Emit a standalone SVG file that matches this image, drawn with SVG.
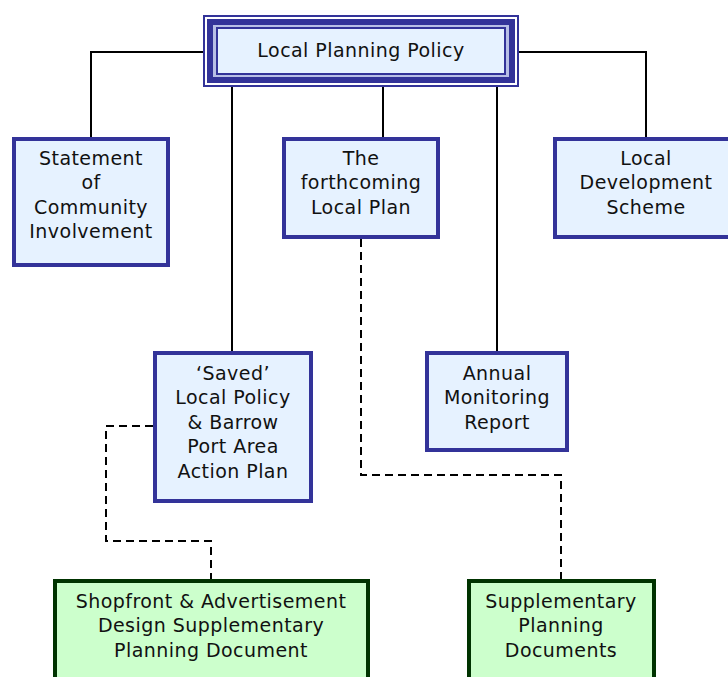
<svg xmlns="http://www.w3.org/2000/svg" width="728" height="677" viewBox="0 0 728 677">
  <style>
    .box { fill: #e6f2ff; stroke: #333399; stroke-width: 4; }
    .doc { fill: #ccffcc; stroke: #003300; stroke-width: 4; }
    .lbl { font-family: "DejaVu Sans", Verdana, sans-serif; font-size: 19px; letter-spacing: 0.45px; fill: #111; text-anchor: middle; }
    .solid { fill: none; stroke: #000; stroke-width: 2; }
    .dash { fill: none; stroke: #000; stroke-width: 2; stroke-dasharray: 8 5; }
  </style>
  <rect width="728" height="677" fill="#fff"/>

  <!-- connectors -->
  <g id="connectors">
    <polyline class="solid" points="211,52 91,52 91,137"/>
    <polyline class="solid" points="511,52 646,52 646,137"/>
    <line class="solid" x1="383" y1="87" x2="383" y2="137"/>
    <line class="solid" x1="232" y1="87" x2="232" y2="351"/>
    <line class="solid" x1="497" y1="87" x2="497" y2="351"/>
    <polyline class="dash" points="361,239 361,475 561,475 561,579"/>
    <polyline class="dash" points="153,426 106,426 106,541 211,541 211,579"/>
  </g>

  <!-- root node with framed border -->
  <g id="local-planning-policy">
    <rect x="204" y="16" width="314" height="70" fill="#fff" stroke="#333399" stroke-width="2"/>
    <rect x="207" y="19" width="308" height="64" fill="#333399"/>
    <rect x="213" y="25" width="296" height="52" fill="#b8bfe6"/>
    <rect x="217" y="28" width="288" height="46" fill="#e6f2ff" stroke="#333399" stroke-width="2"/>
    <text class="lbl" x="361" y="56.5">Local Planning Policy</text>
  </g>

  <g id="statement-community-involvement">
    <rect class="box" x="14" y="139" width="154" height="126"/>
    <text class="lbl" x="91" y="164.5">Statement</text>
    <text class="lbl" x="91" y="189">of</text>
    <text class="lbl" x="91" y="213.5">Community</text>
    <text class="lbl" x="91" y="238">Involvement</text>
  </g>

  <g id="forthcoming-local-plan">
    <rect class="box" x="284" y="139" width="154" height="98"/>
    <text class="lbl" x="361" y="164.5">The</text>
    <text class="lbl" x="361" y="189">forthcoming</text>
    <text class="lbl" x="361" y="213.5">Local Plan</text>
  </g>

  <g id="local-development-scheme">
    <rect class="box" x="555" y="139" width="182" height="98"/>
    <text class="lbl" x="646" y="164.5">Local</text>
    <text class="lbl" x="646" y="189">Development</text>
    <text class="lbl" x="646" y="213.5">Scheme</text>
  </g>

  <g id="saved-local-policy">
    <rect class="box" x="155" y="353" width="156" height="148"/>
    <text class="lbl" x="233" y="379.5">‘Saved’</text>
    <text class="lbl" x="233" y="404">Local Policy</text>
    <text class="lbl" x="233" y="428.5">&amp; Barrow</text>
    <text class="lbl" x="233" y="453">Port Area</text>
    <text class="lbl" x="233" y="477.5">Action Plan</text>
  </g>

  <g id="annual-monitoring-report">
    <rect class="box" x="427" y="353" width="140" height="97"/>
    <text class="lbl" x="497" y="379.5">Annual</text>
    <text class="lbl" x="497" y="404">Monitoring</text>
    <text class="lbl" x="497" y="428.5">Report</text>
  </g>

  <g id="shopfront-spd">
    <rect class="doc" x="55" y="581" width="313" height="120"/>
    <text class="lbl" x="211" y="607.5">Shopfront &amp; Advertisement</text>
    <text class="lbl" x="211" y="632">Design Supplementary</text>
    <text class="lbl" x="211" y="656.5">Planning Document</text>
  </g>

  <g id="supplementary-planning-documents">
    <rect class="doc" x="469" y="581" width="185" height="120"/>
    <text class="lbl" x="561" y="607.5">Supplementary</text>
    <text class="lbl" x="561" y="632">Planning</text>
    <text class="lbl" x="561" y="656.5">Documents</text>
  </g>
</svg>
